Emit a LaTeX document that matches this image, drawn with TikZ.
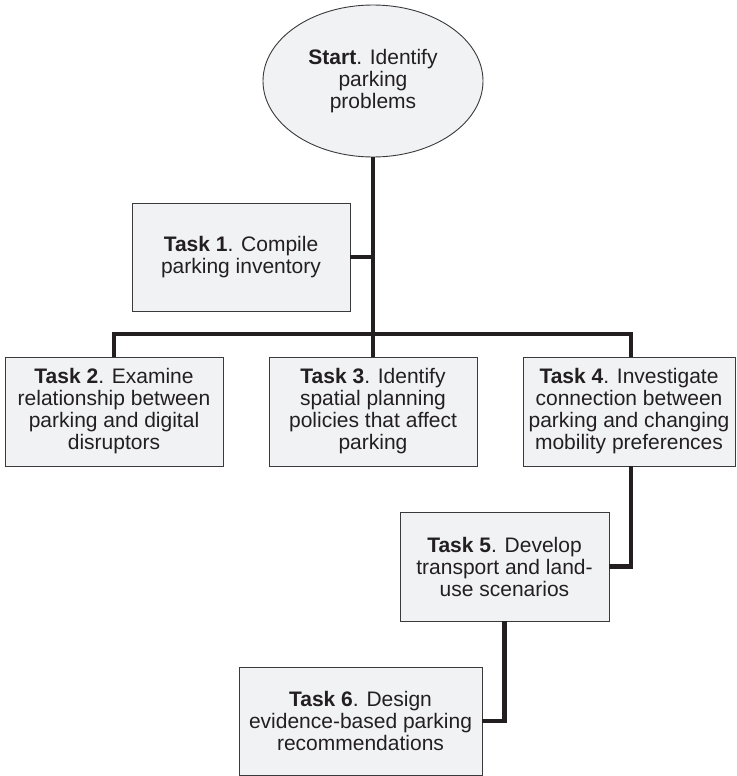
\documentclass[tikz,border=0pt]{standalone}
\usepackage{fontspec}
\setmainfont{Liberation Sans}
\usetikzlibrary{shapes.geometric}
\definecolor{boxfill}{HTML}{F1F2F4}
\definecolor{boxline}{HTML}{3A3A3C}
\definecolor{ink}{HTML}{231F20}
\tikzset{
  taskbox/.style={draw=boxline, line width=0.9pt, fill=boxfill, rectangle, inner sep=0pt,
    align=center, text=ink, font=\fontsize{21}{22}\selectfont},
  startshape/.style={draw=boxline, line width=0.9pt, fill=boxfill, ellipse, inner sep=0pt,
    align=center, text=ink, font=\fontsize{21}{22}\selectfont,
    minimum width=220pt, minimum height=152pt},
  link/.style={draw=ink, line width=4.5pt},
}
\begin{document}
\begin{tikzpicture}[x=1pt, y=-1pt]
\useasboundingbox (0,0) rectangle (736,776);
\node[startshape] (start) at (373,81) {\textbf{Start}. Identify\\parking\\problems};
\node[taskbox, minimum width=218pt, minimum height=108pt] (t1) at (241,257)
  {\textbf{Task 1}. Compile\\parking inventory};
\node[taskbox, minimum width=218pt, minimum height=109pt] (t2) at (114,411.5)
  {\textbf{Task 2}. Examine\\relationship between\\parking and digital\\disruptors};
\node[taskbox, minimum width=208pt, minimum height=109pt] (t3) at (373,411.5)
  {\textbf{Task 3}. Identify\\spatial planning\\policies that affect\\parking};
\node[taskbox, minimum width=212pt, minimum height=109pt] (t4) at (629,411.5)
  {\textbf{Task 4}. Investigate\\connection between\\parking and changing\\mobility preferences};
\node[taskbox, minimum width=209pt, minimum height=109pt] (t5) at (504.5,566.5)
  {\textbf{Task 5}. Develop\\transport and land-\\use scenarios};
\node[taskbox, minimum width=243pt, minimum height=108pt] (t6) at (360.5,721)
  {\textbf{Task 6}. Design\\evidence-based parking\\recommendations};
\coordinate (bar) at (373,334);
\coordinate (t1j) at (373,257);
\draw[link] (start.south) -- (t3.north);
\draw[link] (t1.east) -- (t1j);
\draw[link] (t2.north) |- (bar) -| ([xshift=2pt]t4.north);
\draw[link] ([xshift=2pt]t4.south) |- (t5.east);
\draw[link] (t5.south) |- (t6.east);
\end{tikzpicture}
\end{document}
